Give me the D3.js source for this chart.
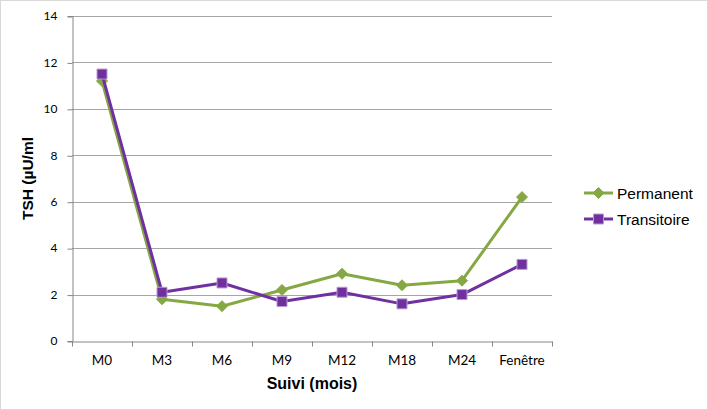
<!DOCTYPE html>
<html>
<head>
<meta charset="utf-8">
<script src="https://cdn.jsdelivr.net/npm/d3@7"></script>
<style>
  body { margin: 0; background: #fff; }
  svg { display: block; }
</style>
</head>
<body>
<div id="chart"></div>
<script>
// Data
var categories = ["M0", "M3", "M6", "M9", "M12", "M18", "M24", "Fenêtre"];
var permanent = [11.2, 1.8, 1.5, 2.2, 2.9, 2.4, 2.6, 6.2];
var transitoire = [11.5, 2.1, 2.5, 1.7, 2.1, 1.6, 2.0, 3.3];
var yTicks = [0, 2, 4, 6, 8, 10, 12, 14];

var series = [
    {name: "Permanent", values: permanent, color: "#86A844", marker: "diamond"},
    {name: "Transitoire", values: transitoire, color: "#7030A0", marker: "square"}
];

var width = 708, height = 410;
var plot = {left: 72, right: 552, top: 16, bottom: 341};

var svg = d3.select("#chart").append("svg")
    .attr("width", width)
    .attr("height", height);

// outer border
svg.append("rect")
    .attr("x", 0.5).attr("y", 0.5)
    .attr("width", width - 1).attr("height", height - 1)
    .attr("fill", "none")
    .attr("stroke", "#d9d9d9");

var x = d3.scaleBand()
    .domain(categories)
    .range([plot.left, plot.right]);

var y = d3.scaleLinear()
    .domain([0, 14])
    .range([plot.bottom, plot.top]);

// gridlines
svg.append("g")
    .selectAll("line")
    .data(yTicks.slice(1))
    .enter().append("line")
        .attr("x1", plot.left).attr("x2", plot.right)
        .attr("y1", function (d) {return Math.round(y(d)) + 0.5;})
        .attr("y2", function (d) {return Math.round(y(d)) + 0.5;})
        .attr("stroke", "#a6a6a6")
        .attr("stroke-width", 1);

// y axis
var yAxis = svg.append("g")
    .attr("transform", "translate(" + (plot.left + 0.5) + ",0)")
    .call(d3.axisLeft(y).tickValues(yTicks).tickSize(5).tickPadding(10));
yAxis.select(".domain").attr("stroke", "#868686");
yAxis.selectAll(".tick line").attr("stroke", "#868686")
    .attr("transform", "translate(0,0.5)");
yAxis.selectAll("text")
    .style("font-family", "Lato, 'Open Sans', sans-serif")
    .style("font-size", "12px")
    .attr("fill", "#000");

// x axis
var xAxis = svg.append("g")
    .attr("transform", "translate(0," + (plot.bottom + 0.5) + ")")
    .call(d3.axisBottom(x).tickSize(0).tickPadding(14));
xAxis.select(".domain").attr("stroke", "#868686");
xAxis.selectAll("text")
    .style("font-family", "Lato, 'Open Sans', sans-serif")
    .style("font-size", "13.5px")
    .attr("fill", "#000");
// category separators
xAxis.selectAll(".sep")
    .data(categories.concat([null]))
    .enter().append("line")
        .attr("class", "sep")
        .attr("x1", function (d, i) {return Math.round(plot.left + i * x.bandwidth()) + 0.5;})
        .attr("x2", function (d, i) {return Math.round(plot.left + i * x.bandwidth()) + 0.5;})
        .attr("y1", 0).attr("y2", 5)
        .attr("stroke", "#868686");

// axis titles
svg.append("text")
    .attr("x", 312)
    .attr("y", 389)
    .attr("text-anchor", "middle")
    .style("font-family", "'Liberation Sans', Arial, sans-serif")
    .style("font-weight", "bold")
    .style("font-size", "16px")
    .text("Suivi (mois)");

svg.append("text")
    .attr("transform", "translate(33,178.5) rotate(-90)")
    .attr("text-anchor", "middle")
    .style("font-family", "'Liberation Sans', Arial, sans-serif")
    .style("font-weight", "bold")
    .style("font-size", "15.5px")
    .text("TSH (µU/ml");

// lines and markers
var line = d3.line()
    .x(function (d, i) {return x(categories[i]) + x.bandwidth() / 2;})
    .y(function (d) {return y(d);});

function markerPath(type) {
    if (type === "diamond") return "M0,-5.5L5.5,0L0,5.5L-5.5,0Z";
    return "M-5,-5H5V5H-5Z";
}

series.forEach(function (s) {
    var g = svg.append("g");
    g.append("path")
        .datum(s.values)
        .attr("d", line)
        .attr("fill", "none")
        .attr("stroke", s.color)
        .attr("stroke-width", 3)
        .attr("stroke-linejoin", "round");
    g.selectAll(".mk")
        .data(s.values)
        .enter().append("path")
            .attr("class", "mk")
            .attr("transform", function (d, i) {
                return "translate(" + (x(categories[i]) + x.bandwidth() / 2) + "," + y(d) + ")";
            })
            .attr("d", markerPath(s.marker))
            .attr("fill", s.color)
            .attr("stroke", s.marker === "square" ? "#b79ccb" : s.color)
            .attr("stroke-width", 1);
});

// legend
var legend = svg.append("g")
    .selectAll("g")
    .data(series)
    .enter().append("g")
        .attr("transform", function (d, i) {return "translate(584," + (193 + i * 26) + ")";});
legend.append("line")
    .attr("x1", 0).attr("x2", 29)
    .attr("stroke", function (d) {return d.color;})
    .attr("stroke-width", 3);
legend.append("path")
    .attr("transform", "translate(14.5,0)")
    .attr("d", function (d) {return markerPath(d.marker);})
    .attr("fill", function (d) {return d.color;})
    .attr("stroke", function (d) {return d.marker === "square" ? "#b79ccb" : d.color;});
legend.append("text")
    .attr("x", 33)
    .attr("dy", "0.36em")
    .style("font-family", "'Liberation Sans', Arial, sans-serif")
    .style("font-size", "15.5px")
    .text(function (d) {return d.name;});
</script>
</body>
</html>
